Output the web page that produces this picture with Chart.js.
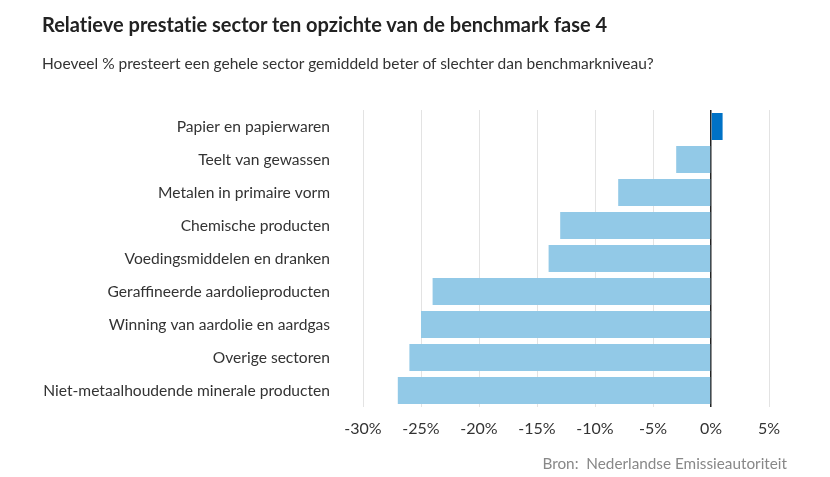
<!DOCTYPE html>
<html><head><meta charset="utf-8">
<script src="https://cdn.jsdelivr.net/npm/chart.js@4"></script>
<style>
html,body{margin:0;padding:0;background:#fff;}
#wrap{position:relative;width:830px;height:477px;overflow:hidden;}
canvas{position:absolute;left:0;top:0;}
.t{position:absolute;white-space:nowrap;font-family:Lato,sans-serif;font-variant-ligatures:none;}
#title{left:42px;top:12px;font-size:20px;font-weight:700;color:#222;}
#sub{left:42px;top:54px;font-size:15.5px;color:#333;}
#src{right:43px;top:454px;font-size:15.3px;color:#888;}
</style></head><body>
<div id="wrap">
<canvas id="c" width="830" height="477"></canvas>
<div class="t" id="title">Relatieve prestatie sector ten opzichte van de benchmark fase 4</div>
<div class="t" id="sub">Hoeveel % presteert een gehele sector gemiddeld beter of slechter dan benchmarkniveau?</div>
<div class="t" id="src">Bron:&nbsp; Nederlandse Emissieautoriteit</div>
</div>
<script>
const categories = [
  "Papier en papierwaren",
  "Teelt van gewassen",
  "Metalen in primaire vorm",
  "Chemische producten",
  "Voedingsmiddelen en dranken",
  "Geraffineerde aardolieproducten",
  "Winning van aardolie en aardgas",
  "Overige sectoren",
  "Niet-metaalhoudende minerale producten"
];
const values = [1, -3, -8, -13, -14, -24, -25, -26, -27];
const tickValues = [-30, -25, -20, -15, -10, -5, 0, 5];

const barColors = values.map(v => v > 0 ? "#0072c6" : "#92c9e7");

new Chart(document.getElementById("c"), {
  type: "bar",
  data: {
    labels: categories,
    datasets: [{
      data: values,
      backgroundColor: barColors,
      borderWidth: 0,
      categoryPercentage: 1,
      barPercentage: 0.82
    }]
  },
  options: {
    indexAxis: "y",
    responsive: false,
    animation: false,
    layout: { padding: { left: 0, right: 61, top: 110, bottom: 30 } },
    plugins: { legend: { display: false }, tooltip: { enabled: false } },
    scales: {
      x: {
        min: -30, max: 5,
        afterBuildTicks: s => { s.ticks = tickValues.map(v => ({ value: v })); },
        afterFit: s => { s.height = 40; },
        border: { display: false },
        grid: {
          drawTicks: false,
          color: c => c.tick && c.tick.value === 0 ? "#222" : "#e3e3e3",
          lineWidth: c => c.tick && c.tick.value === 0 ? 1.5 : 1
        },
        ticks: {
          padding: 12,
          color: "#333",
          font: { family: "Lato", size: 16 },
          callback: v => v + "%"
        }
      },
      y: {
        afterFit: s => { s.width = 363; },
        border: { display: false },
        grid: { display: false, drawTicks: false },
        ticks: {
          padding: 33,
          color: "#333",
          font: { family: "Lato", size: 15.6 }
        }
      }
    }
  }
});
</script>
</body></html>
